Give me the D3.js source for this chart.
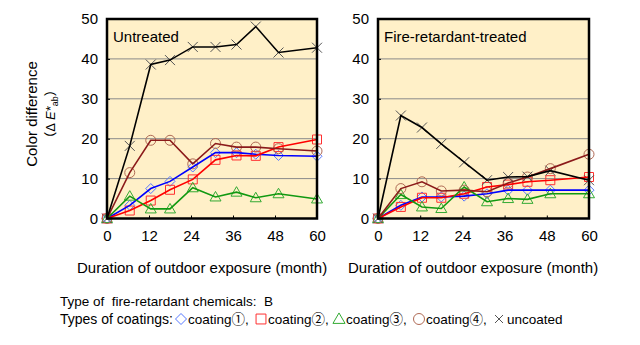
<!DOCTYPE html>
<html>
<head>
<meta charset="utf-8">
<script src="https://cdn.jsdelivr.net/npm/d3@7"></script>
<style>
  body { margin: 0; background: #fff; }
  text { font-family: "Liberation Sans", Arial, "Noto Sans CJK JP", sans-serif; fill: #000; }
</style>
</head>
<body>
<div id="chart"></div>
<script>
// months of outdoor exposure
const months = [0, 6.5, 12.5, 18, 24.5, 31, 37, 42.5, 49, 60];
const xTicks = [0, 12, 24, 36, 48, 60];
const yTicks = [0, 10, 20, 30, 40, 50];

// Untreated wood
const untreatedC1 = [0, 3.3, 7.5, 9.3, 12.9, 16.5, 16.5, 16.1, 15.8, 15.6];
const untreatedC2 = [0, 2.0, 4.5, 7.2, 9.8, 14.7, 15.8, 15.7, 17.9, 19.8];
const untreatedC3 = [0, 5.6, 2.4, 2.4, 7.7, 5.4, 6.6, 5.2, 6.2, 4.9];
const untreatedC4 = [0, 11.5, 19.6, 19.6, 13.7, 18.8, 17.9, 17.9, 17.5, 16.9];
const untreatedNone = [0, 18.2, 38.6, 39.7, 43.0, 43.0, 43.6, 48.1, 41.6, 42.8];

// Fire-retardant-treated wood
const treatedC1 = [0, 3.3, 5.4, 5.4, 5.6, 6.2, 7.1, 7.1, 7.1, 7.1];
const treatedC2 = [0, 2.9, 5.2, 5.2, 6.2, 7.9, 8.5, 9.2, 9.6, 10.4];
const treatedC3 = [0, 6.0, 2.9, 2.5, 7.9, 4.2, 5.0, 4.8, 6.2, 6.2];
const treatedC4 = [0, 7.5, 9.2, 6.9, 7.1, 6.7, 8.9, 10.4, 12.5, 16.1];
const treatedNone = [0, 25.8, 22.8, 18.7, 14.1, 9.6, 10.4, 10.5, 12.0, 9.6];

// legend labels
const legendItems = ["coating①, ", "coating②, ", "coating③, ", "coating④, ", "uncoated"];

// series styles: line colour, marker colour, marker shape
const styles = [
  { line: "#0000ff", mark: "#5577ff", shape: "diamond" },
  { line: "#ff0000", mark: "#ff3030", shape: "square" },
  { line: "#119911", mark: "#33aa33", shape: "triangle" },
  { line: "#8b1a1a", mark: "#b06a55", shape: "circle" },
  { line: "#000000", mark: "#555555", shape: "cross" }
];

const panels = [
  { title: "Untreated", left: 107, right: 317, series: [untreatedC1, untreatedC2, untreatedC3, untreatedC4, untreatedNone] },
  { title: "Fire-retardant-treated", left: 378, right: 589, series: [treatedC1, treatedC2, treatedC3, treatedC4, treatedNone] }
];

const width = 640, height = 345;
const plotTop = 19, plotBottom = 218.5;

const svg = d3.select("#chart").append("svg")
  .attr("width", width)
  .attr("height", height);

const y = d3.scaleLinear().domain([0, 50]).range([plotBottom, plotTop]);

function marker(g, shape, cx, cy, color, r = 5) {
  const s = g.append("path")
    .attr("fill", "none")
    .attr("stroke", color)
    .attr("stroke-width", 1);
  if (shape === "diamond") s.attr("d", `M${cx},${cy-r}L${cx+r},${cy}L${cx},${cy+r}L${cx-r},${cy}Z`);
  if (shape === "square") s.attr("d", `M${cx-r*0.9},${cy-r*0.9}h${r*1.8}v${r*1.8}h${-r*1.8}Z`);
  if (shape === "triangle") s.attr("d", `M${cx},${cy-r*1.1}L${cx+r*1.1},${cy+r*0.8}L${cx-r*1.1},${cy+r*0.8}Z`);
  if (shape === "circle") s.attr("d", `M${cx-r},${cy}a${r},${r} 0 1,0 ${2*r},0a${r},${r} 0 1,0 ${-2*r},0`);
  if (shape === "cross") s.attr("d", `M${cx-r},${cy-r}L${cx+r},${cy+r}M${cx-r},${cy+r}L${cx+r},${cy-r}`);
}

panels.forEach(p => {
  const x = d3.scaleLinear().domain([0, 60]).range([p.left, p.right]);
  const g = svg.append("g");

  // background
  g.append("rect")
    .attr("x", p.left).attr("y", plotTop)
    .attr("width", p.right - p.left).attr("height", plotBottom - plotTop)
    .attr("fill", "#fff0c8");

  // gridlines
  g.selectAll(".grid").data(yTicks.filter(d => d > 0 && d < 50)).enter()
    .append("line")
    .attr("x1", p.left).attr("x2", p.right)
    .attr("y1", d => y(d)).attr("y2", d => y(d))
    .attr("stroke", "#8a8a8a").attr("stroke-width", 1);

  // axes (inner ticks)
  const xAxis = g.append("g")
    .attr("transform", `translate(0,${plotBottom})`)
    .call(d3.axisBottom(x).tickValues(xTicks).tickSizeInner(-3).tickSizeOuter(0).tickPadding(12));
  xAxis.select(".domain").remove();
  xAxis.selectAll("text").attr("font-size", 15).attr("font-family", "Liberation Sans, Arial, sans-serif");

  const yAxis = g.append("g")
    .attr("transform", `translate(${p.left},0)`)
    .call(d3.axisLeft(y).tickValues(yTicks).tickSizeInner(-3).tickSizeOuter(0).tickPadding(9));
  yAxis.select(".domain").remove();
  yAxis.selectAll("text").attr("font-size", 15).attr("font-family", "Liberation Sans, Arial, sans-serif");

  // markers
  p.series.forEach((vals, i) => {
    vals.forEach((v, j) => marker(g, styles[i].shape, x(months[j]), y(v), styles[i].mark));
  });

  // lines
  const line = d3.line().x((d, j) => x(months[j])).y(d => y(d));
  p.series.forEach((vals, i) => {
    g.append("path")
      .datum(vals)
      .attr("fill", "none")
      .attr("stroke", styles[i].line)
      .attr("stroke-width", 1.6)
      .attr("d", line);
  });

  // frame
  g.append("rect")
    .attr("x", p.left).attr("y", plotTop)
    .attr("width", p.right - p.left).attr("height", plotBottom - plotTop)
    .attr("fill", "none")
    .attr("stroke", "#000").attr("stroke-width", 2.5);

  g.append("text")
    .attr("x", p.left + 6).attr("y", plotTop + 23)
    .attr("font-size", 15)
    .text(p.title);

  g.append("text")
    .attr("x", p.left - 30).attr("y", 273)
    .attr("font-size", 15)
    .text("Duration of outdoor exposure (month)");
});

// y-axis title
svg.append("text")
  .attr("transform", "translate(37,114) rotate(-90)")
  .attr("text-anchor", "middle")
  .attr("font-size", 15)
  .text("Color difference");

const yt2 = svg.append("text")
  .attr("transform", "translate(55,114) rotate(-90)")
  .attr("text-anchor", "middle")
  .attr("font-size", 13);
yt2.append("tspan").text("（Δ ");
yt2.append("tspan").attr("font-style", "italic").text("E*");
yt2.append("tspan").attr("font-size", 9).attr("dy", 3).text("ab");
yt2.append("tspan").attr("dy", -3).text("）");

// legend
svg.append("text")
  .attr("x", 60).attr("y", 306)
  .attr("font-size", 13.5)
  .attr("xml:space", "preserve")
  .text("Type of  fire-retardant chemicals:  B");

svg.append("text")
  .attr("x", 60).attr("y", 324)
  .attr("font-size", 14)
  .text("Types of coatings:");

const legendX = [175, 255, 333, 413, 493];
legendItems.forEach((name, i) => {
  marker(svg, styles[i].shape, legendX[i] + 6, 319, styles[i].mark, styles[i].shape === "cross" ? 4 : 5.5);
  svg.append("text")
    .attr("x", legendX[i] + (i === 4 ? 14 : 13)).attr("y", 324)
    .attr("font-size", 13.5)
    .attr("xml:space", "preserve")
    .text(name);
});
</script>
</body>
</html>
